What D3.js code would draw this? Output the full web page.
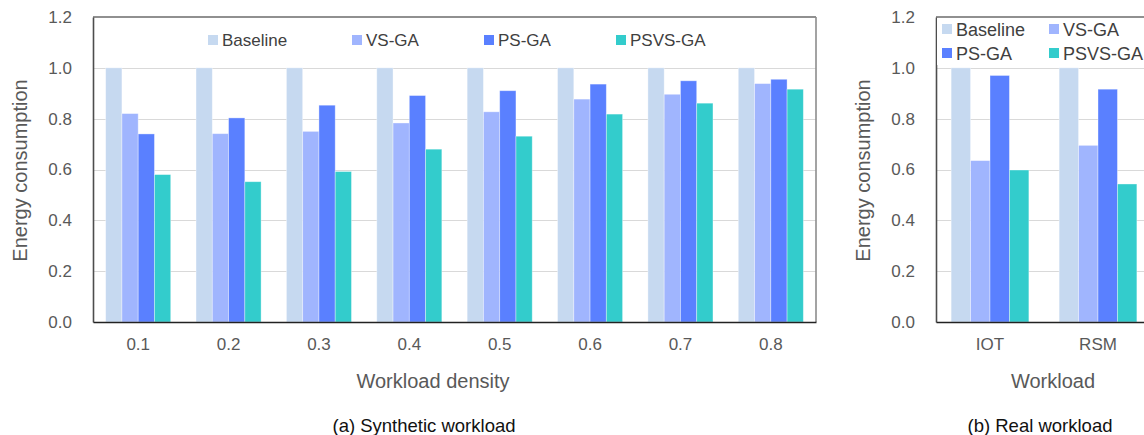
<!DOCTYPE html>
<html>
<head>
<meta charset="utf-8">
<script src="https://cdn.jsdelivr.net/npm/d3@7"></script>
<style>
  html, body { margin: 0; padding: 0; background: #fff; }
  svg { display: block; font-family: "Liberation Sans", Arial, sans-serif; }
</style>
</head>
<body>
<svg id="chart" width="1144" height="435"></svg>
<script>
// ---- data ----
const seriesNames = ["Baseline", "VS-GA", "PS-GA", "PSVS-GA"];
const seriesColors = ["#C6D9F0", "#A0B5FE", "#5A80FF", "#33CCCC"];

const synthCategories = ["0.1", "0.2", "0.3", "0.4", "0.5", "0.6", "0.7", "0.8"];
const synthBaseline = [1, 1, 1, 1, 1, 1, 1, 1];
const synthVS   = [0.82, 0.741, 0.75, 0.783, 0.827, 0.877, 0.896, 0.938];
const synthPS   = [0.74, 0.803, 0.853, 0.891, 0.91, 0.936, 0.949, 0.955];
const synthPSVS = [0.58, 0.552, 0.592, 0.68, 0.731, 0.818, 0.861, 0.916];

const realCategories = ["IOT", "RSM"];
const realBaseline = [1, 1];
const realVS   = [0.635, 0.695];
const realPS   = [0.97, 0.916];
const realPSVS = [0.598, 0.543];

const yTicks = [0, 0.2, 0.4, 0.6, 0.8, 1.0, 1.2];

const svg = d3.select("#chart");

function drawPanel(opt) {
  const { x0, x1, y0, y1, cats, series, xTitle, caption, xTitleX, captionX } = opt;
  const g = svg.append("g");
  const y = d3.scaleLinear().domain([0, 1.2]).range([y1, y0]);
  const x = d3.scaleBand().domain(cats).range([x0, x1]).paddingInner(0.28).paddingOuter(0.14);
  const xs = d3.scaleBand().domain(seriesNames).range([0, x.bandwidth()]);

  // gridlines
  g.append("g").selectAll("line").data(yTicks.filter(t => t > 0 && t < 1.2)).join("line")
    .attr("x1", x0).attr("x2", x1)
    .attr("y1", d => Math.round(y(d)) + 0.5).attr("y2", d => Math.round(y(d)) + 0.5)
    .attr("stroke", "#D9D9D9").attr("stroke-width", 1);

  // bars
  const groups = g.append("g").selectAll("g").data(cats).join("g")
    .attr("transform", d => `translate(${x(d)},0)`);
  groups.selectAll("rect")
    .data((c, i) => seriesNames.map((s, k) => ({ s, k, v: series[k][i] })))
    .join("rect")
    .attr("x", d => xs(d.s))
    .attr("width", xs.bandwidth())
    .attr("y", d => y(d.v))
    .attr("height", d => y(0) - y(d.v))
    .attr("fill", d => seriesColors[d.k])
    .attr("stroke", "rgba(255,255,255,0.45)")
    .attr("stroke-width", 0.8);

  // frame: top & right
  g.append("line").attr("x1", x0).attr("x2", x1).attr("y1", y0).attr("y2", y0)
    .attr("stroke", "#6B6B6B").attr("stroke-width", 1.6);
  g.append("line").attr("x1", x1).attr("x2", x1).attr("y1", y0).attr("y2", y1)
    .attr("stroke", "#8C8C8C").attr("stroke-width", 1.6);

  // y axis
  const ya = g.append("g").attr("transform", `translate(${x0},0)`)
    .call(d3.axisLeft(y).tickValues(yTicks).tickFormat(d3.format(".1f")).tickSize(0).tickPadding(21));
  ya.select(".domain").attr("stroke", "#4D4D4D").attr("stroke-width", 1.6);
  ya.selectAll("text").attr("font-size", 17).attr("fill", "#595959")
    .attr("font-family", "Liberation Sans, Arial, sans-serif");

  // x axis
  const xa = g.append("g").attr("transform", `translate(0,${y1})`)
    .call(d3.axisBottom(x).tickSize(0).tickPadding(16));
  xa.select(".domain").attr("stroke", "#222").attr("stroke-width", 1.6);
  xa.selectAll("text").attr("font-size", 17).attr("fill", "#595959")
    .attr("font-family", "Liberation Sans, Arial, sans-serif");

  // y title
  svg.append("text")
    .attr("transform", `translate(${opt.yTitleX},${(y0 + y1) / 2 + 1}) rotate(-90)`)
    .attr("text-anchor", "middle").attr("font-size", 20).attr("fill", "#595959")
    .text("Energy consumption");

  // x title
  svg.append("text").attr("x", xTitleX).attr("y", 388)
    .attr("text-anchor", "middle").attr("font-size", 20).attr("fill", "#595959")
    .text(xTitle);

  // caption
  svg.append("text").attr("x", captionX).attr("y", 432)
    .attr("text-anchor", "middle").attr("font-size", 18.5).attr("fill", "#111")
    .text(caption);

  return { x, y, g };
}

// Panel (a)
drawPanel({
  x0: 93, x1: 816, y0: 17, y1: 322,
  cats: synthCategories,
  series: [synthBaseline, synthVS, synthPS, synthPSVS],
  xTitle: "Workload density", xTitleX: 433,
  caption: "(a) Synthetic workload", captionX: 424,
  yTitleX: 27
});

// Panel (b)
drawPanel({
  x0: 936, x1: 1152, y0: 17, y1: 322,
  cats: realCategories,
  series: [realBaseline, realVS, realPS, realPSVS],
  xTitle: "Workload", xTitleX: 1053,
  caption: "(b) Real workload", captionX: 1040,
  yTitleX: 870
});

// Legend (a): single row
const legA = svg.append("g");
const legAX = [208, 352, 484, 616];
seriesNames.forEach((s, i) => {
  const it = legA.append("g").attr("transform", `translate(${legAX[i]},40)`);
  it.append("rect").attr("x", 0).attr("y", -5).attr("width", 10).attr("height", 10).attr("fill", seriesColors[i]);
  it.append("text").attr("x", 14).attr("y", 6).attr("font-size", 17).attr("fill", "#404040").text(s);
});

// Legend (b): two rows with white background
const legB = svg.append("g");
legB.append("rect").attr("x", 937).attr("y", 18).attr("width", 210).attr("height", 47).attr("fill", "#fff");
const legBPos = [[942, 29], [1049, 29], [942, 53], [1049, 53]];
seriesNames.forEach((s, i) => {
  const it = legB.append("g").attr("transform", `translate(${legBPos[i][0]},${legBPos[i][1]})`);
  it.append("rect").attr("x", 0).attr("y", -5).attr("width", 10).attr("height", 10).attr("fill", seriesColors[i]);
  it.append("text").attr("x", 14).attr("y", 6.5).attr("font-size", 18).attr("fill", "#404040").text(s);
});
</script>
</body>
</html>
